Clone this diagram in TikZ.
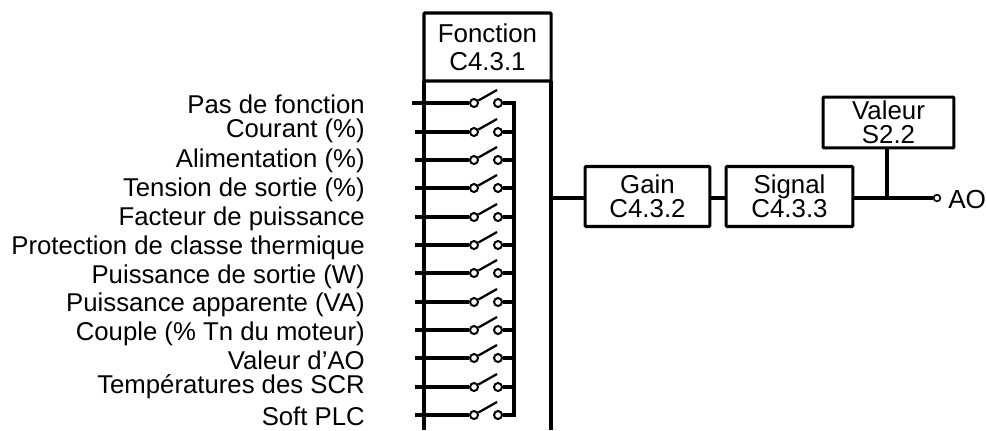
\documentclass[tikz,border=0pt]{standalone}
\usepackage{fontspec}
\setmainfont{Liberation Sans}
\begin{document}
\begin{tikzpicture}[x=0.75pt,y=-0.75pt,
  wire/.style={line width=2.3pt},
  blockbox/.style={draw,line width=2.3pt,rounded corners=0.6pt,inner sep=0pt,align=center,font=\fontsize{19.4}{18}\selectfont},
  contact/.style={circle,draw,line width=1.5pt,fill=white,minimum size=6pt,inner sep=0pt},
  lab/.style={anchor=east,inner sep=0pt,font=\fontsize{19.3}{20}\selectfont}]
\useasboundingbox (0,0) rectangle (986,430);
% header
\node[blockbox,minimum width=95.3pt,minimum height=51pt] (fn) at (487.5,47) {Fonction\\[3pt]C4.3.1};
\coordinate (wl) at (424,81);\coordinate (wlb) at (424,430);
\coordinate (wr) at (551,81);\coordinate (wrb) at (551,430);
% switches
\foreach \i/\x/\y/\ly/\t in {1/412/103/104/Pas de fonction,2/415/132/131/Courant (\%),3/415/160/161/Alimentation (\%),4/415/188/190/Tension de sortie (\%),5/415/217/219/Facteur de puissance,6/415/245/248/Protection de classe thermique,7/415/273/277/Puissance de sortie (W),8/415/302/305/Puissance apparente (VA),9/415/330/334/Couple (\% Tn du moteur),10/415/358/360/Valeur d’AO,11/415/387/387/Températures des SCR,12/415/415/416/Soft PLC}{
  \node[lab] (l\i) at (365,\ly) {\t};
  \coordinate (in\i) at (\x,\y);
  \node[contact] (a\i) at (474,\y) {};
  \node[contact] (b\i) at (498,\y) {};
  \coordinate (bus\i) at (514,\y);
  \coordinate (arm\i) at (497,\y-13);
  \draw[wire] (in\i) -- (a\i);
  \draw[line width=1.7pt] (a\i) -- (arm\i);
  \draw[wire] (b\i) -- (bus\i);
}
\draw[wire,line cap=rect] (bus1) -- (bus12);
\draw[wire] (wl) -- (wlb);
\draw[wire] (wr) -- (wrb);
% right chain
\node[blockbox,minimum width=93.5pt,minimum height=45pt] (gain) at (647.5,196.5) {Gain\\C4.3.2};
\node[blockbox,minimum width=95pt,minimum height=45pt] (sig) at (789.5,196.5) {Signal\\C4.3.3};
\node[blockbox,minimum width=98pt,minimum height=38pt] (val) at (888.5,122.5) {Valeur\\S2.2};
\node[contact,minimum size=5pt,line width=1.2pt] (ao) at (937,198) {};
\node[anchor=west,inner sep=0pt,font=\fontsize{19.6}{20}\selectfont] (aot) at (948,199) {AO};
\coordinate (wi) at (551,198);
\coordinate (jn) at (887,198);
\draw[wire] (wi) -- (gain.west |- wi);
\draw[wire] (gain.east |- wi) -- (sig.west |- wi);
\draw[wire] (sig.east |- wi) -- (ao);
\draw[wire] (val.south -| jn) -- (jn);
\end{tikzpicture}
\end{document}
